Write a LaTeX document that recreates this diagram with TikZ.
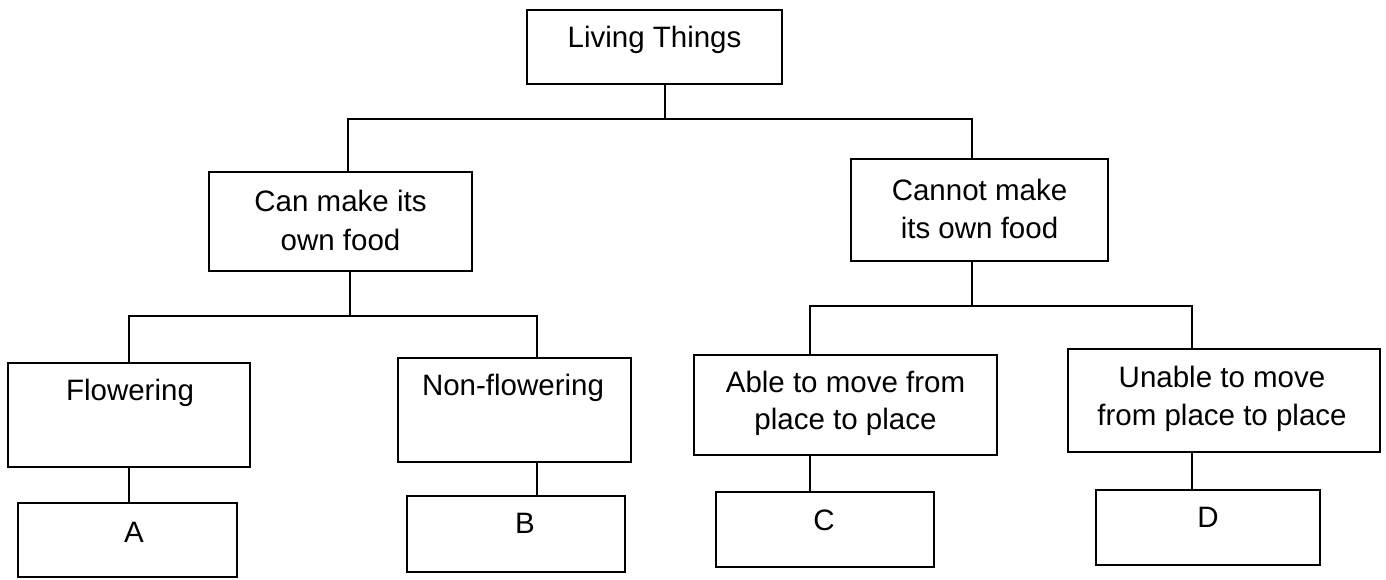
\documentclass[tikz,border=0pt]{standalone}
\usepackage{fontspec}
\setmainfont{Liberation Sans}
\begin{document}
\begin{tikzpicture}[x=1pt,y=-1pt,
  box/.style={draw=black,line width=1.8pt,rectangle,inner sep=0pt,outer sep=0pt},
  txt/.style={inner sep=0pt,anchor=base,font=\fontsize{29.5}{38}\selectfont},
  link/.style={draw=black,line width=1.8pt}]
\useasboundingbox[fill=white] (0,0) rectangle (1386,579);
% boxes
\node[box,minimum width=255pt,minimum height=74pt] (LT) at (654.5,47) {};
\node[box,minimum width=263pt,minimum height=99pt] (Can) at (340.5,221.5) {};
\node[box,minimum width=257pt,minimum height=102pt] (Cannot) at (979.5,210) {};
\node[box,minimum width=242pt,minimum height=104pt] (Flow) at (129,415) {};
\node[box,minimum width=233pt,minimum height=104pt] (Non) at (514.5,410) {};
\node[box,minimum width=303pt,minimum height=100pt] (Able) at (845.5,405) {};
\node[box,minimum width=312pt,minimum height=103pt] (Unable) at (1224,400.5) {};
\node[box,minimum width=219pt,minimum height=74pt] (A) at (127.5,540) {};
\node[box,minimum width=218pt,minimum height=76pt] (B) at (516,534) {};
\node[box,minimum width=218pt,minimum height=75pt] (C) at (825,529.5) {};
\node[box,minimum width=224pt,minimum height=75pt] (D) at (1208,527.5) {};
% texts
\node[txt] (tLT) at (654.5,47) {Living Things};
\node[txt] (tCan1) at (340.5,211) {Can make its};
\node[txt] (tCan2) at (340.5,250) {own food};
\node[txt] (tCannot1) at (979.5,200) {Cannot make};
\node[txt] (tCannot2) at (979.5,238) {its own food};
\node[txt] (tFlow) at (130,400) {Flowering};
\node[txt] (tNon) at (513,395) {Non-flowering};
\node[txt] (tAble1) at (845.5,392) {Able to move from};
\node[txt] (tAble2) at (845.5,429) {place to place};
\node[txt] (tUnable1) at (1222,387) {Unable to move};
\node[txt] (tUnable2) at (1222,425) {from place to place};
\node[txt] (tA) at (134,542) {A};
\node[txt] (tB) at (525,533) {B};
\node[txt] (tC) at (824,530) {C};
\node[txt] (tD) at (1208,527) {D};
% junctions
\coordinate (j1) at (665,119);
\coordinate (b1) at (348,119);
\coordinate (b2) at (972,119);
\coordinate (j2) at (350,316);
\coordinate (b3) at (129,316);
\coordinate (b4) at (537,316);
\coordinate (j3) at (972,306);
\coordinate (b5) at (810,306);
\coordinate (b6) at (1192,306);
% connectors
\draw[link] (LT.south -| j1) -- (j1);
\draw[link] (Can.north -| b1) -- (b1) -- (b2) -- (Cannot.north -| b2);
\draw[link] (Can.south -| j2) -- (j2);
\draw[link] (Flow.north -| b3) -- (b3) -- (b4) -- (Non.north -| b4);
\draw[link] (Cannot.south -| j3) -- (j3);
\draw[link] (Able.north -| b5) -- (b5) -- (b6) -- (Unable.north -| b6);
\draw[link] (Flow.south -| b3) -- (A.north -| b3);
\draw[link] (Non.south -| b4) -- (B.north -| b4);
\draw[link] (Able.south -| b5) -- (C.north -| b5);
\draw[link] (Unable.south -| b6) -- (D.north -| b6);
\end{tikzpicture}
\end{document}
